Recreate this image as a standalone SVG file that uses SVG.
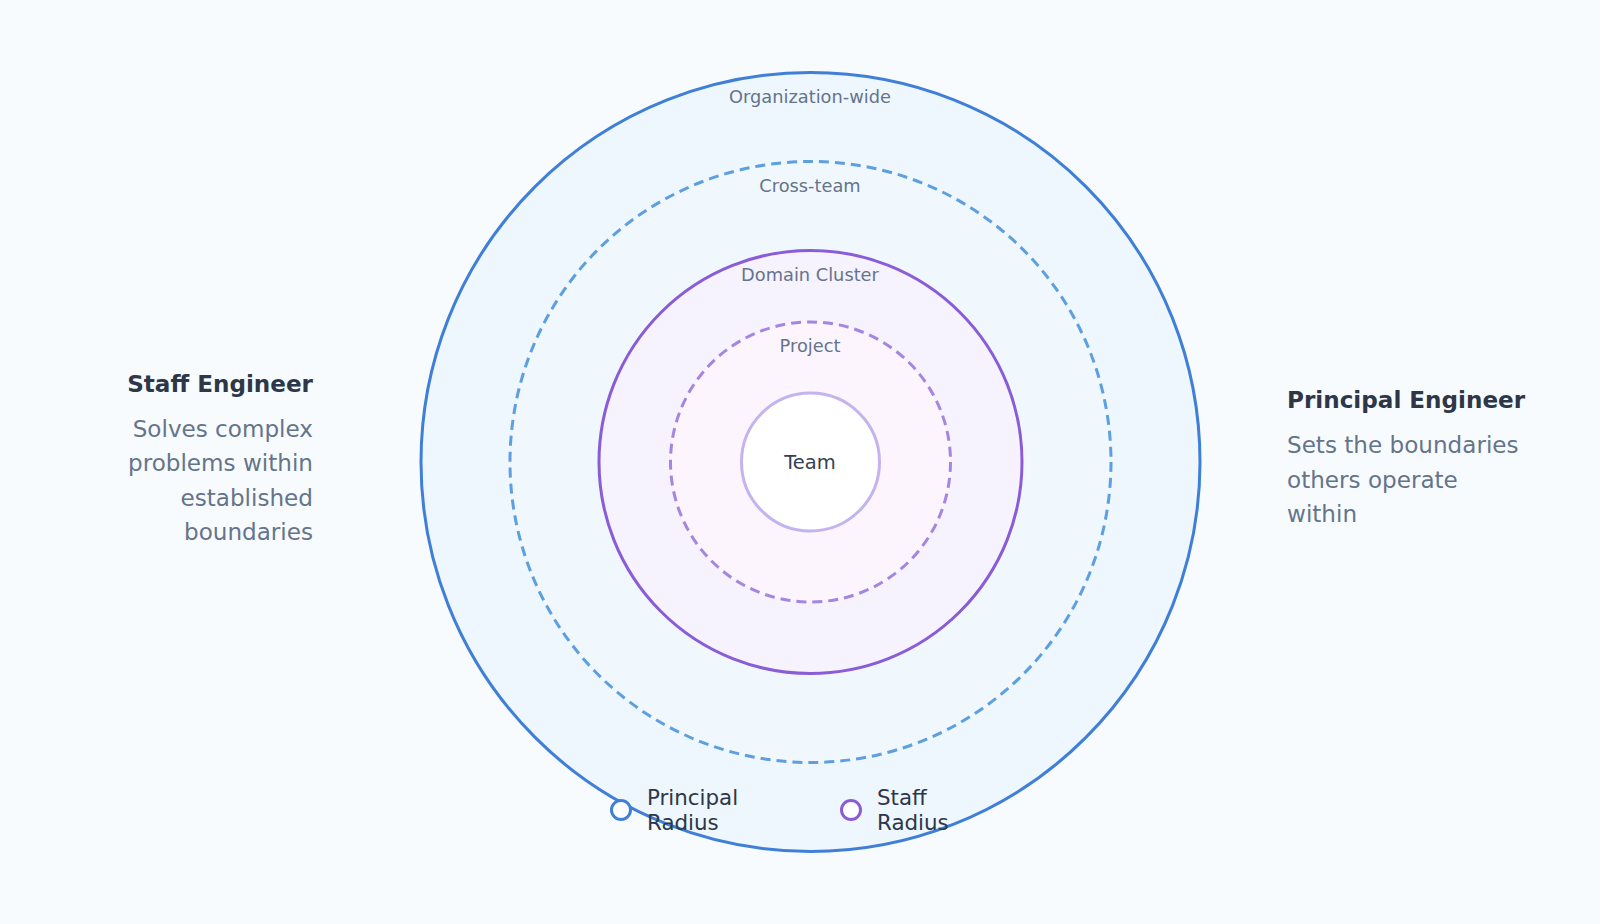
<svg xmlns="http://www.w3.org/2000/svg" width="1600" height="924" viewBox="0 0 1600 924">
<style>
text{font-family:"DejaVu Sans","Liberation Sans",sans-serif}
.ring{font-size:17.8px;fill:#64748b;text-anchor:middle}
.title{font-size:23.1px;font-weight:bold;fill:#2d3748}
.desc{font-size:23.1px;fill:#64748b}
.leg{font-size:21.4px;fill:#2d3748}
</style>
<rect width="1600" height="924" fill="#f8fbfd"/>
<g id="org"><circle cx="810.5" cy="462" r="389.5" fill="#eef6fe" stroke="#3f7fd8" stroke-width="3"/><text class="ring" x="810" y="103">Organization-wide</text></g>
<g id="cross"><circle cx="810.5" cy="462" r="300.5" fill="#f0f8fe" stroke="#5d9fdf" stroke-width="3" stroke-dasharray="10 6"/><text class="ring" x="810" y="192">Cross-team</text></g>
<g id="domain"><circle cx="810.5" cy="462" r="211.5" fill="#f6f2fe" stroke="#8a5cd8" stroke-width="3"/><text class="ring" x="810" y="281">Domain Cluster</text></g>
<g id="project"><circle cx="810.5" cy="462" r="140" fill="#fcf5fe" stroke="#a486e0" stroke-width="3" stroke-dasharray="10 6"/><text class="ring" x="810" y="352">Project</text></g>
<g id="team"><circle cx="810.5" cy="462" r="69" fill="#ffffff" stroke="#c3b3ee" stroke-width="3"/><text x="810" y="469" text-anchor="middle" font-size="19.5" fill="#334155">Team</text></g>
<g id="staff" text-anchor="end"><text class="title" x="313" y="392">Staff Engineer</text><text class="desc" x="313" y="437">Solves complex</text><text class="desc" x="313" y="471">problems within</text><text class="desc" x="313" y="506">established</text><text class="desc" x="313" y="540">boundaries</text></g>
<g id="principal"><text class="title" x="1287" y="408">Principal Engineer</text><text class="desc" x="1287" y="453">Sets the boundaries</text><text class="desc" x="1287" y="488">others operate</text><text class="desc" x="1287" y="522">within</text></g>
<g id="legend-principal"><circle cx="621" cy="810" r="9.5" fill="#ffffff" stroke="#3f7fd8" stroke-width="3"/><text class="leg" x="647" y="805">Principal</text><text class="leg" x="647" y="830">Radius</text></g>
<g id="legend-staff"><circle cx="851" cy="810" r="9.5" fill="#ffffff" stroke="#8a5cd8" stroke-width="3"/><text class="leg" x="877" y="805">Staff</text><text class="leg" x="877" y="830">Radius</text></g>
<g id="connectors"/>
</svg>
